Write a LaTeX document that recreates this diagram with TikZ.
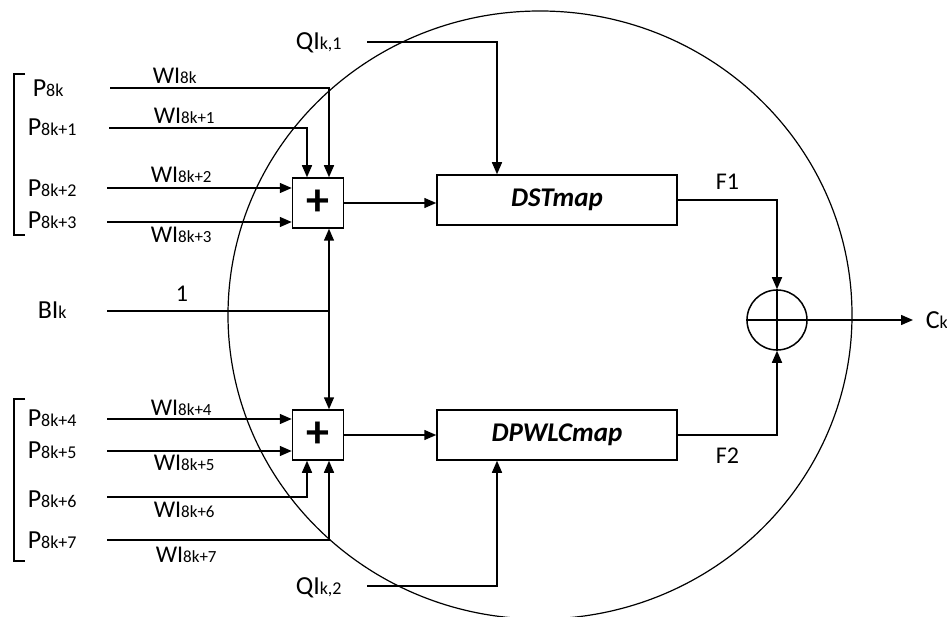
\documentclass[tikz,border=0pt]{standalone}
\usepackage{fontspec}
\setmainfont{Carlito}
\usetikzlibrary{arrows.meta}
\newcommand\lo[1]{{\fontsize{18}{18}\selectfont #1}}
\newcommand\lw[1]{{\fontsize{17}{17}\selectfont #1}}
\begin{document}
\begin{tikzpicture}[x=1pt,y=-1pt,
  line width=1.5pt,
  arr/.style={-{Triangle[length=12pt,width=10pt]}},
  plab/.style={anchor=base west,inner sep=0pt,font=\fontsize{26}{26}\selectfont},
  wlab/.style={anchor=base west,inner sep=0pt,font=\fontsize{24}{24}\selectfont},
  addbox/.style={draw,minimum width=51pt,minimum height=50pt,inner sep=0pt,font=\fontsize{46}{46}\selectfont\bfseries},
  mapbox/.style={draw,minimum width=240pt,minimum height=50pt,inner sep=0pt,font=\fontsize{27}{27}\selectfont\bfseries\itshape},
  sumnode/.style={draw,circle,minimum size=60pt,inner sep=0pt}]
\useasboundingbox (0,0) rectangle (947,617);
% big enclosing ellipse
\draw[line width=1.2pt] (540,315) ellipse [x radius=312, y radius=304];
% brackets
\draw[line width=1.2pt] (25,74) -- (14,74) -- (14,235) -- (25,235);
\draw[line width=1.2pt] (25,399) -- (14,399) -- (14,561) -- (25,561);
% blocks
\node[addbox] (add1) at (318,203) {+};
\node[addbox] (add2) at (318,435) {+};
\node[mapbox] (dst) at (557,200) {DSTmap};
\node[mapbox] (dpw) at (557,435) {DPWLCmap};
\node[sumnode] (sum) at (777,320) {};
% labels
\node[plab] (p0) at (32,97) {P\lo{8k}};
\node[plab] (p1) at (27,136) {P\lo{8k+1}};
\node[plab] (p2) at (27,197) {P\lo{8k+2}};
\node[plab] (p3) at (27,229) {P\lo{8k+3}};
\node[plab] (p4) at (27,426) {P\lo{8k+4}};
\node[plab] (p5) at (27,458) {P\lo{8k+5}};
\node[plab] (p6) at (27,507) {P\lo{8k+6}};
\node[plab] (p7) at (27,548) {P\lo{8k+7}};
\node[wlab] (w0) at (152,84) {WI\lw{8k}};
\node[wlab] (w1) at (153,124) {WI\lw{8k+1}};
\node[wlab] (w2) at (150,183) {WI\lw{8k+2}};
\node[wlab] (w3) at (150,243) {WI\lw{8k+3}};
\node[wlab] (w4) at (150,415) {WI\lw{8k+4}};
\node[wlab] (w5) at (153,470) {WI\lw{8k+5}};
\node[wlab] (w6) at (153,517) {WI\lw{8k+6}};
\node[wlab] (w7) at (155,562) {WI\lw{8k+7}};
\node[plab] (bl) at (37,319) {BI\lo{k}};
\node[wlab] (one) at (175,302) {1};
\node[plab] (ql1) at (295,50) {QI\lo{k,1}};
\node[plab] (ql2) at (295,594) {QI\lo{k,2}};
\node[plab] (ck) at (925,328) {C\lo{k}};
\node[wlab] (f1) at (715,190) {F1};
\node[wlab] (f2) at (715,463) {F2};
% line start points
\coordinate (s0) at (110,88);
\coordinate (s1) at (109,128);
\coordinate (s2) at (107,188);
\coordinate (s3) at (107,222);
\coordinate (s4) at (107,419);
\coordinate (s5) at (107,451);
\coordinate (s6) at (107,497);
\coordinate (s7) at (107,540);
\coordinate (b0) at (107,311);
\coordinate (j) at (329,311);
\coordinate (q1) at (367,42);
\coordinate (q2) at (367,586);
\coordinate (out) at (913,320);
% connectors
\draw[arr] (s0) -| ([xshift=11pt]add1.north);
\draw[arr] (s1) -| ([xshift=-11pt]add1.north);
\draw[arr] (s2) -- (s2 -| add1.west);
\draw[arr] (s3) -- (s3 -| add1.west);
\draw[arr] (s4) -- (s4 -| add2.west);
\draw[arr] (s5) -- (s5 -| add2.west);
\draw[arr] (s6) -| ([xshift=-11pt]add2.south);
\draw[arr] (s7) -| ([xshift=11pt]add2.south);
\draw (b0) -- (j);
\draw[arr] (j) -- ([xshift=11pt]add1.south);
\draw[arr] (j) -- ([xshift=11pt]add2.north);
\draw[arr] (add1.east) -- (add1.east -| dst.west);
\draw[arr] (add2.east) -- (add2.east -| dpw.west);
\draw[arr] (q1) -| ([xshift=-60pt]dst.north);
\draw[arr] (q2) -| ([xshift=-60pt]dpw.south);
\draw[arr] (dst.east) -| (sum.north);
\draw[arr] (dpw.east) -| (sum.south);
\draw (sum.north) -- (sum.south);
\draw (sum.west) -- (sum.east);
\draw[arr] (sum.east) -- (out);
\end{tikzpicture}
\end{document}
